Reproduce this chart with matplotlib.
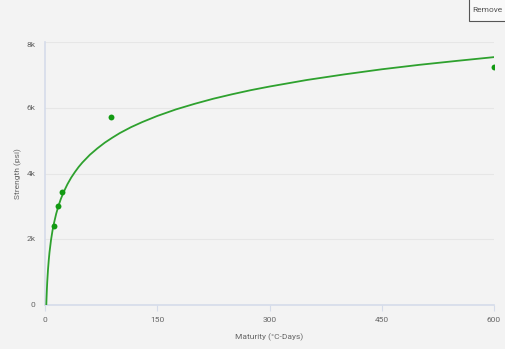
import matplotlib.pyplot as plt
from matplotlib.patches import Rectangle

# measured samples (maturity in degC-days, strength in psi)
maturity = [12, 18, 23, 88, 600]
strength = [2400, 3000, 3450, 5720, 7250]

# fitted strength curve
curve_m = [1.75, 2, 2.5, 3, 4, 5, 6, 8, 10, 12, 15, 18, 21, 25, 30, 35, 40,
           45, 50, 60, 70, 80, 90, 100, 115, 130, 150, 175, 200, 225, 250,
           275, 300, 350, 400, 450, 500, 550, 600]
curve_s = [0, 180, 470, 705, 1075, 1360, 1600, 1970, 2260, 2490, 2780, 3015,
           3215, 3440, 3675, 3875, 4045, 4200, 4335, 4570, 4765, 4940, 5090,
           5230, 5410, 5565, 5750, 5950, 6120, 6275, 6410, 6535, 6645, 6845,
           7015, 7170, 7305, 7425, 7540]

x_ticks = [0, 150, 300, 450, 600]
y_ticks = [0, 2000, 4000, 6000, 8000]
y_labels = ['0', '2k', '4k', '6k', '8k']

bg = '#f3f3f3'
txt = '#666666'
plt.rcParams['font.family'] = ['Roboto', 'DejaVu Sans']

fig = plt.figure(figsize=(5.06, 3.49), dpi=100, facecolor=bg)
ax = fig.add_axes([45/506, 44/349, 449/506, 263/349], facecolor=bg)

ax.plot(curve_m, curve_s, c='#2ea12e', lw=1.3, zorder=3)
ax.scatter(maturity, strength, s=18, c='#129a12', zorder=4, linewidths=0)

ax.set_xlim(0, 600)
ax.set_ylim(0, 8000)
ax.set_xticks(x_ticks)
ax.set_xticklabels([str(v) for v in x_ticks])
ax.set_yticks(y_ticks)
ax.set_yticklabels(y_labels)
ax.grid(axis='y', color='#e6e6e6', lw=0.8)
ax.set_axisbelow(True)

for side in ['top', 'right']:
    ax.spines[side].set_visible(False)
for side in ['left', 'bottom']:
    ax.spines[side].set_color('#d5dcea')
    ax.spines[side].set_linewidth(1.2)

ax.tick_params(axis='x', length=4, width=0.8, color='#d5dcea', labelsize=6,
               labelcolor=txt, pad=5)
ax.tick_params(axis='y', length=0, labelsize=6, labelcolor=txt, pad=7)
for lbl in ax.get_yticklabels():
    lbl.set_verticalalignment('top' if lbl.get_text() == '8k' else 'center')

ax.set_xlabel('Maturity (°C-Days)', fontsize=6, color=txt, labelpad=7)
ax.set_ylabel('Strength (psi)', fontsize=6, color=txt, labelpad=3)

# "Remove" button in the top-right corner
fig.patches.append(Rectangle((469/506, 328/349), 40/506, 24/349,
                             transform=fig.transFigure, facecolor='#f9f9f9',
                             edgecolor='#555555', lw=0.8))
fig.text(487/506, 339/349, 'Remove', fontsize=6, color='#555555',
         ha='center', va='center')

fig.savefig('out.png', dpi=100, facecolor=bg)
